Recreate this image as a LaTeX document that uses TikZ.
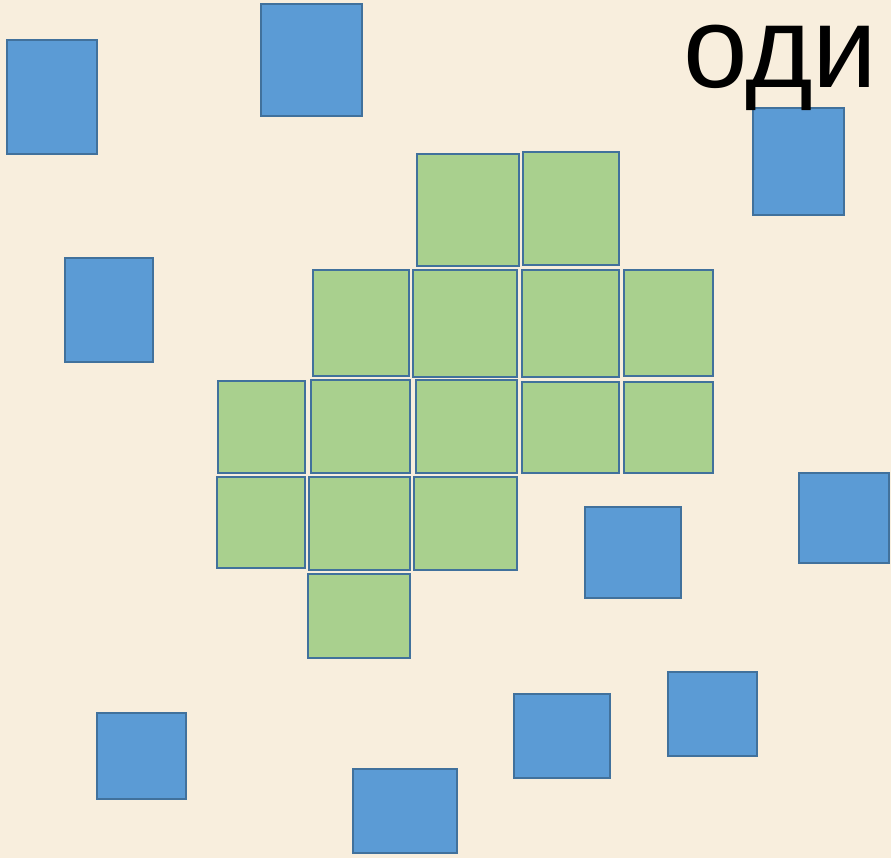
\documentclass[tikz,border=0pt]{standalone}
\usepackage{fontspec}
\setmainfont{Liberation Sans}
\definecolor{paper}{HTML}{F8EEDD}
\definecolor{boxblue}{HTML}{5B9BD5}
\definecolor{boxgreen}{HTML}{A9D08E}
\definecolor{edgeblue}{HTML}{41719C}
\tikzset{
  bluebox/.style={fill=boxblue, draw=edgeblue, line width=2.6pt},
  greenbox/.style={fill=boxgreen, draw=edgeblue, line width=2.6pt}
}
\begin{document}
\begin{tikzpicture}[x=1pt, y=-1pt]
\fill[paper] (0,0) rectangle (891,858);
\useasboundingbox (0,0) rectangle (891,858);

% scattered blue squares
\foreach \xa/\ya/\xb/\yb in {7/40/97/154, 261/4/362/116, 753/108/844/215,
  65/258/153/362, 799/473/889/563, 585/507/681/598, 97/713/186/799,
  514/694/610/778, 668/672/757/756, 353/769/457/853}
  \draw[bluebox] (\xa,\ya) rectangle (\xb,\yb);

% green block
\foreach \xa/\ya/\xb/\yb in {417/154/519/266, 523/152/619/265,
  313/270/409/376, 413/270/517/377, 522/270/619/377, 624/270/713/376,
  218/381/305/473, 311/380/410/473, 416/380/517/473, 522/382/619/473, 624/382/713/473,
  217/477/305/568, 309/477/410/570, 414/477/517/570,
  308/574/410/658}
  \draw[greenbox] (\xa,\ya) rectangle (\xb,\yb);

\node[anchor=base west, inner sep=0pt, text height=62pt, text depth=16pt,
  font=\fontsize{116}{130}\selectfont] (word) at (683,88) {оди};
\end{tikzpicture}
\end{document}
